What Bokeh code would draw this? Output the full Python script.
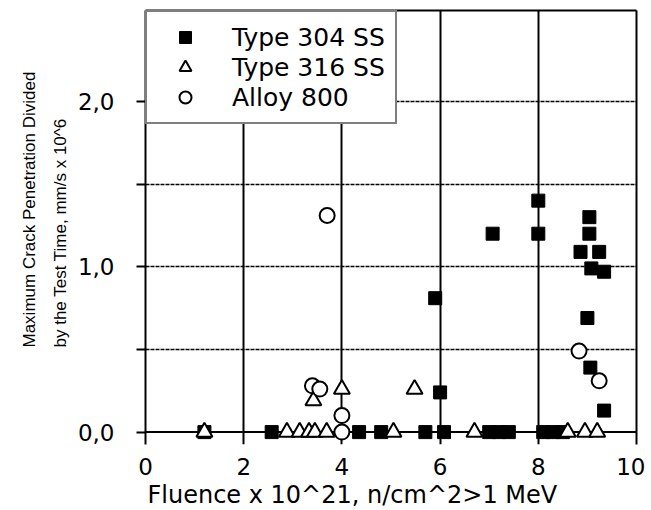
from bokeh.plotting import figure
from bokeh.models import (Range1d, LinearAxis, FixedTicker, Span, Legend, LegendItem,
                          Title, CustomJSTickFormatter)
from bokeh.embed import file_html
from bokeh.resources import INLINE

# ---- data ----
x_304 = [1.2, 2.57, 4.35, 4.8, 5.7, 6.08, 7.0, 7.2, 7.4, 8.1, 8.3, 8.5,
         5.9, 6.0, 7.07, 8.0, 8.0, 9.04, 9.04, 8.86, 9.24, 9.08, 9.34, 9.0, 9.06, 9.34]
y_304 = [0, 0, 0, 0, 0, 0, 0, 0, 0, 0, 0, 0,
         0.81, 0.24, 1.2, 1.4, 1.2, 1.3, 1.2, 1.09, 1.09, 0.99, 0.97, 0.69, 0.39, 0.13]

x_316 = [1.2, 2.88, 3.14, 3.33, 3.45, 3.69, 5.05, 6.7, 8.6, 8.95, 9.2, 3.42, 4.0, 5.48]
y_316 = [0, 0, 0, 0, 0, 0, 0, 0, 0, 0, 0, 0.19, 0.26, 0.26]

x_800 = [4.0, 4.0, 3.4, 3.55, 3.7, 8.83, 9.24]
y_800 = [0, 0.10, 0.28, 0.26, 1.31, 0.49, 0.31]

series_names = ["Type 304 SS", "Type 316 SS", "Alloy 800"]
x_ticks = [0, 2, 4, 6, 8, 10]
y_ticks = [0, 1, 2]
y_minor = [0.5, 1.5]
x_grid = [2, 4, 6, 8]
y_grid = [0.5, 1.0, 1.5, 2.0]
x_label = "Fluence x 10^21, n/cm^2>1 MeV"
y_label_1 = "Maximum Crack Penetration Divided"
y_label_2 = "by the Test Time, mm/s x 10^6"

FONT = "DejaVu Sans"
YFONT = "Liberation Sans"

p = figure(width=645, height=510, x_range=Range1d(0, 10), y_range=Range1d(-0.075, 2.55),
           output_backend="svg", toolbar_location=None,
           min_border_left=145, min_border_right=9, min_border_top=10, min_border_bottom=65)
p.outline_line_color = None
p.background_fill_color = "white"
p.border_fill_color = "white"

# x axis (its line is drawn by a span at y=0)
xa = p.xaxis[0]
xa.ticker = FixedTicker(ticks=x_ticks)
xa.axis_line_color = None
xa.major_tick_out = 0
xa.major_tick_in = 0
xa.minor_tick_out = 0
xa.minor_tick_in = 0
xa.major_label_text_font = FONT
xa.major_label_text_font_size = "23px"
xa.major_label_text_color = "black"
xa.major_label_standoff = 13

ya = p.yaxis[0]
ya.ticker = FixedTicker(ticks=y_ticks, minor_ticks=y_minor)
ya.axis_line_width = 2
ya.axis_line_color = "black"
ya.major_tick_out = 9
ya.major_tick_in = 0
ya.minor_tick_out = 9
ya.minor_tick_in = 0
ya.major_tick_line_width = 2
ya.minor_tick_line_width = 2
ya.major_tick_line_color = "black"
ya.minor_tick_line_color = "black"
ya.formatter = CustomJSTickFormatter(code="return tick.toFixed(1).replace('.', ',');")
ya.major_label_text_font = FONT
ya.major_label_text_font_size = "23px"
ya.major_label_text_color = "black"
ya.major_label_standoff = 22

for loc in ("right", "above"):
    ax = LinearAxis(ticker=FixedTicker(ticks=[]), major_tick_out=0, major_tick_in=0,
                    minor_tick_out=0, minor_tick_in=0, major_label_text_font_size="0px",
                    major_label_standoff=0, axis_line_width=2, axis_line_color="black")
    p.add_layout(ax, loc)

p.xgrid.ticker = FixedTicker(ticks=x_grid)
p.xgrid.grid_line_color = "black"
p.xgrid.grid_line_width = 2
p.xgrid.grid_line_alpha = 1
p.ygrid.ticker = FixedTicker(ticks=y_grid)
p.ygrid.grid_line_color = "black"
p.ygrid.grid_line_width = 1.5
p.ygrid.grid_line_alpha = 1
p.ygrid.grid_line_dash = "4 1"

p.add_layout(Span(location=0, dimension="width", line_color="black", line_width=2, level="underlay"))

r1 = p.scatter(x_304, y_304, marker="square", size=13, fill_color="black", line_color="black")
r2 = p.scatter(x_316, y_316, marker="triangle", size=16, fill_color="white",
               line_color="black", line_width=2)
r3 = p.scatter(x_800, y_800, marker="circle", size=15, fill_color="white",
               line_color="black", line_width=2)

legend = Legend(items=[LegendItem(label=series_names[0], renderers=[r1]),
                       LegendItem(label=series_names[1], renderers=[r2]),
                       LegendItem(label=series_names[2], renderers=[r3])],
                location="top_left", margin=0, padding=10, spacing=0,
                glyph_width=56, glyph_height=30, label_height=30, label_standoff=19,
                label_text_font=FONT, label_text_font_size="25px", label_text_color="black",
                border_line_color="black", border_line_width=2,
                background_fill_color="white", background_fill_alpha=1)
p.add_layout(legend)

p.add_layout(Title(text=x_label, align="left", offset=2, standoff=3, text_font=FONT,
                   text_font_size="24px", text_font_style="normal", text_color="black"), "below")
p.add_layout(Title(text=y_label_2, align="left", offset=97, text_font=YFONT,
                   text_font_size="17px", text_font_style="normal", text_color="black"), "left")
p.add_layout(Title(text=y_label_1, align="left", offset=97, text_font=YFONT,
                   text_font_size="17px", text_font_style="normal", text_color="black"), "left")

open("out.html", "w").write(file_html(p, INLINE))
